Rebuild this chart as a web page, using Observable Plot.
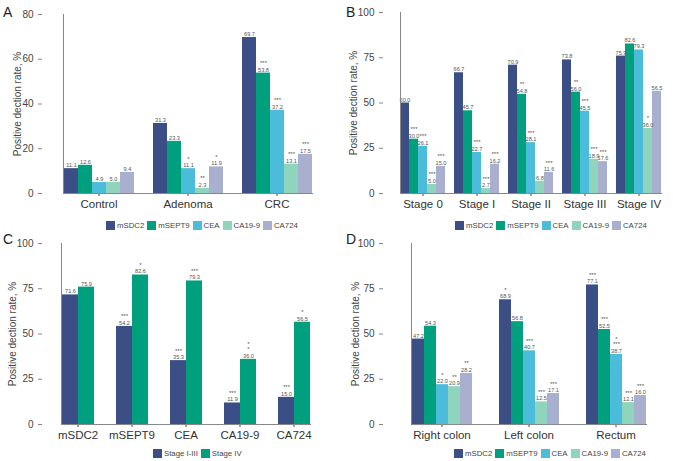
<!DOCTYPE html>
<html><head><meta charset="utf-8">
<script src="https://cdn.jsdelivr.net/npm/d3@7"></script>
<script src="https://cdn.jsdelivr.net/npm/@observablehq/plot@0.6"></script>
<style>
body{margin:0;background:#fff;font-family:"Liberation Sans",Arial,sans-serif;}
#root{position:relative;width:673px;height:461px;overflow:hidden;background:#fff;}
.panel{position:absolute;}
.plabel{position:absolute;font-size:14px;line-height:14px;color:#222;}
.legend{position:absolute;display:flex;align-items:center;font-size:7.8px;line-height:9px;color:#444;white-space:nowrap;}
.legend .sw{display:inline-block;width:9px;height:9px;margin-right:2px;}
.legend .item{display:flex;align-items:center;margin-right:3px;}
</style></head><body><div id="root"></div>
<script>
const FONT = '"Liberation Sans", Arial, sans-serif';
const YLABEL = "Positive dection rate, %";

// Panel A
const seriesA = ["mSDC2","mSEPT9","CEA","CA19-9","CA724"];
const groupsA = ["Control","Adenoma","CRC"];
const valuesA = [[11.1,12.6,4.9,5.0,9.4],[31.3,23.3,11.1,2.3,11.9],[69.7,53.8,37.2,13.1,17.5]];
const sigA = [["","","","",""],["","","*","**","*"],["","***","***","***","***"]];
const ticksA = [0,20,40,60,80];

// Panel B
const seriesB = ["mSDC2","mSEPT9","CEA","CA19-9","CA724"];
const groupsB = ["Stage 0","Stage I","Stage II","Stage III","Stage IV"];
const valuesB = [[50.0,30.0,26.1,5.0,15.0],[66.7,45.7,22.7,2.7,16.2],[70.9,54.8,28.1,6.8,11.6],[73.8,56.0,45.5,18.9,17.6],[75.9,82.6,79.3,36.0,56.5]];
const sigB = [["","***","***","***","***"],["","","***","***","***"],["","**","***","","***"],["","**","***","***","***"],["","","","*",""]];
const ticksB = [0,25,50,75,100];

// Panel C
const seriesC = ["Stage I-III","Stage IV"];
const groupsC = ["mSDC2","mSEPT9","CEA","CA19-9","CA724"];
const valuesC = [[71.6,75.9],[54.2,82.6],[35.3,79.3],[11.9,36.0],[15.0,56.5]];
const sigC = [["",""],["***","*"],["***","***"],["***","*\n*"],["***","*"]];
const ticksC = [0,25,50,75,100];

// Panel D
const seriesD = ["mSDC2","mSEPT9","CEA","CA19-9","CA724"];
const groupsD = ["Right colon","Left colon","Rectum"];
const valuesD = [[47.2,54.3,22.0,20.9,28.2],[68.9,56.8,40.7,12.5,17.1],[77.1,52.5,38.7,12.1,16.0]];
const sigD = [["","","*","**","**"],["*","","***","***","***"],["***","***","*\n***","***","***"]];
const ticksD = [0,25,50,75,100];

const colors5 = ["#3b4f86","#00a07e","#4bbcd9","#8fd4bd","#a9afcf"];
const colors2 = ["#3b4f86","#00a07e"];

const root = document.getElementById("root");

function build(o, data, shift) {
  return Plot.plot({
    width: o.width, height: o.height,
    marginLeft: o.ml, marginRight: o.mr, marginTop: o.mt, marginBottom: o.mb,
    style: {fontFamily: FONT, background: "transparent", color: "#444", overflow: "visible"},
    fx: {domain: o.groups, paddingInner: o.pi, paddingOuter: o.po, align: o.align, label: null, axis: null},
    x: {domain: o.series, padding: 0, axis: null},
    y: {domain: [0, o.yMax], axis: null},
    color: {domain: o.series, range: o.colors},
    marks: [
      Plot.barY(data, {fx: "group", x: "series", y: "value", fill: "series"}),
      Plot.text(data, {fx: "group", x: "series", y: "value", text: d => d.value.toFixed(1), dy: -1.5, lineAnchor: "bottom", fontSize: 5.6, fill: "#555"}),
      Plot.text(data, {fx: "group", x: "series", y: "value", text: "sig", dy: -8, lineAnchor: "bottom", fontSize: 6, fill: "#555", lineHeight: 0.9}),
      Plot.axisFx({anchor: "bottom", tickSize: 3, tickPadding: 3, fontSize: 11.5, label: null, fill: "#333"}),
      Plot.axisY({facetAnchor: "left", ticks: o.ticks, tickSize: 4, tickPadding: 5, fontSize: 10, fill: "#444", stroke: "#888",
                  dx: -shift, label: YLABEL, labelAnchor: "center", labelOffset: o.lo + shift, labelArrow: "none"}),
      Plot.frame({anchor: "left", facet: "super", stroke: "#888"}),
      Plot.frame({anchor: "bottom", facet: "super", stroke: "#888"})
    ]
  });
}

function panel(o) {
  const data = o.groups.flatMap((g, i) => o.series.map((s, j) => ({group: g, series: s, value: o.values[i][j], sig: o.sigs[i][j]})));
  const probe = build(o, data, 0);
  const fx = probe.scale("fx");
  const shift = fx.apply(o.groups[0]) - o.ml;
  const svg = build(o, data, shift);
  svg.classList.add("panel");
  svg.style.left = o.left + "px";
  svg.style.top = o.top + "px";
  root.appendChild(svg);

  const lab = document.createElement("div");
  lab.className = "plabel";
  lab.textContent = o.letter;
  lab.style.left = o.letterX + "px";
  lab.style.top = o.letterY + "px";
  root.appendChild(lab);

  const leg = document.createElement("div");
  leg.className = "legend";
  leg.style.left = o.legX + "px";
  leg.style.top = o.legY + "px";
  o.series.forEach((s, j) => {
    const it = document.createElement("div");
    it.className = "item";
    const sw = document.createElement("span");
    sw.className = "sw";
    sw.style.background = o.colors[j];
    it.appendChild(sw);
    it.appendChild(document.createTextNode(s));
    leg.appendChild(it);
  });
  root.appendChild(leg);
}

panel({letter: "A", letterX: 3, letterY: 5, groups: groupsA, series: seriesA, values: valuesA, sigs: sigA, colors: colors5,
  yMax: 80, ticks: ticksA, left: 0, top: 0, width: 336, height: 218, ml: 42, mr: 14, mt: 14, mb: 25,
  pi: 0.207, po: 0.168, align: 0.67, lo: 29, legX: 106, legY: 221});
panel({letter: "B", letterX: 346, letterY: 5, groups: groupsB, series: seriesB, values: valuesB, sigs: sigB, colors: colors5,
  yMax: 100, ticks: ticksB, left: 333, top: 0, width: 340, height: 218, ml: 50, mr: 7, mt: 12, mb: 25,
  pi: 0.174, po: 0.183, align: 0.75, lo: 34, legX: 455, legY: 221});
panel({letter: "C", letterX: 3, letterY: 232, groups: groupsC, series: seriesC, values: valuesC, sigs: sigC, colors: colors2,
  yMax: 100, ticks: ticksC, left: 0, top: 228, width: 340, height: 218, ml: 42, mr: 3, mt: 15, mb: 22,
  pi: 0.394, po: 0.40, align: 0.41, lo: 34, legX: 153, legY: 449});
panel({letter: "D", letterX: 346, letterY: 232, groups: groupsD, series: seriesD, values: valuesD, sigs: sigD, colors: colors5,
  yMax: 100, ticks: ticksD, left: 333, top: 228, width: 340, height: 218, ml: 50, mr: 0, mt: 15, mb: 22,
  pi: 0.30, po: 0.30, align: 0.5, lo: 32, legX: 454, legY: 449});
</script></body></html>
